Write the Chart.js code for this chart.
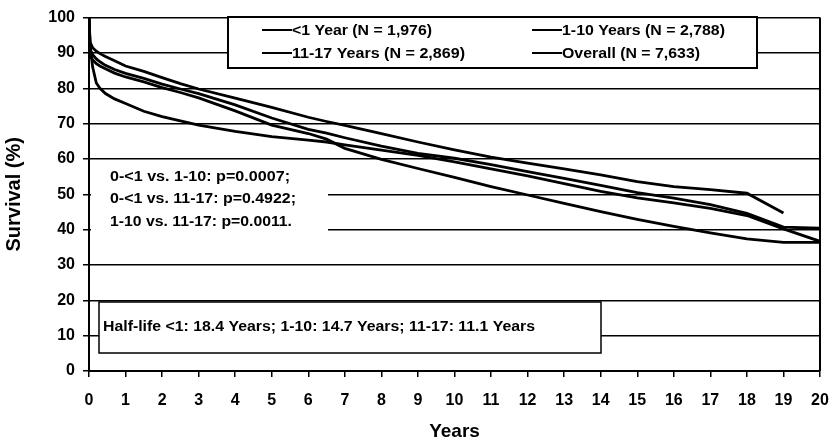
<!DOCTYPE html>
<html><head><meta charset="utf-8">
<script src="https://cdn.jsdelivr.net/npm/chart.js@4.4.1/dist/chart.umd.min.js"></script>
<style>html,body{margin:0;padding:0;background:#fff}</style>
</head><body>
<canvas id="c" width="833" height="447"></canvas>
<script>
// ---- data ----
const years = [0, 0.03, 0.1, 0.2, 0.3, 0.45, 0.7, 1, 1.5, 2, 2.5, 3, 4, 5, 6, 6.5, 7, 8, 9, 10, 11, 12, 13, 14, 15, 16, 17, 18, 19, 20];
const under1 = [100, 92, 86, 81.5, 80, 78.5, 77, 75.7, 73.5, 72, 70.8, 69.6, 67.8, 66.3, 65.3, 64.8, 64, 62.5, 61, 59.2, 57.2, 55.2, 53, 50.8, 49, 47.6, 46, 44, 40.2, 36.7];
const age1to10 = [100, 93, 91.5, 90.5, 89.8, 89, 87.8, 86.3, 84.8, 83, 81.3, 79.8, 77.2, 74.6, 71.8, 70.6, 69.5, 67.2, 64.8, 62.6, 60.5, 58.8, 57.2, 55.5, 53.6, 52.2, 51.3, 50.3, 44.7, null];
const age11to17 = [100, 89.5, 88, 87, 86.3, 85.5, 84.3, 83.2, 81.8, 80.2, 78.8, 77.3, 73.6, 69.6, 67.2, 65.6, 63, 59.9, 57.3, 54.8, 52.2, 49.8, 47.4, 45.1, 42.9, 40.9, 39.1, 37.4, 36.4, 36.4];
const overall = [100, 91, 89.5, 88.3, 87.5, 86.5, 85.3, 84.2, 82.8, 81.2, 79.8, 78.5, 75.3, 71.6, 68.4, 67.3, 66, 63.6, 61.6, 60.2, 58.4, 56.4, 54.5, 52.5, 50.5, 48.9, 47.1, 44.6, 40.7, 40.4];
const seriesLabels = ['<1 Year (N = 1,976)', '1-10 Years (N = 2,788)', '11-17 Years (N = 2,869)', 'Overall (N = 7,633)'];
const pValueLines = ['0-<1 vs. 1-10: p=0.0007;', '0-<1 vs. 11-17: p=0.4922;', '1-10 vs. 11-17: p=0.0011.'];
const halfLifeText = 'Half-life <1: 18.4 Years; 1-10: 14.7 Years; 11-17: 11.1 Years';
const yTicks = [0,10,20,30,40,50,60,70,80,90,100];
const xTicks = [0,1,2,3,4,5,6,7,8,9,10,11,12,13,14,15,16,17,18,19,20];

const FONT = '"Liberation Sans", Arial, Helvetica, sans-serif';
const toPts = arr => years.map((x,i)=>({x, y: arr[i]}));
const allSeries = [under1, age1to10, age11to17, overall];

// draw text stretched horizontally to a target width
function fitText(ctx, t, x, y, w){
  const m = ctx.measureText(t).width;
  ctx.save(); ctx.translate(x, y); ctx.scale(w / m, 1); ctx.fillText(t, 0, 0); ctx.restore();
}

const annot = {
  id: 'annot',
  beforeDatasetsDraw(chart){
    const {ctx, chartArea:a} = chart;
    ctx.save();
    // right border
    ctx.strokeStyle = '#000'; ctx.lineWidth = 2;
    ctx.beginPath(); ctx.moveTo(a.right, a.top); ctx.lineTo(a.right, a.bottom); ctx.stroke();
    // p-value area (white, no border)
    ctx.fillStyle = '#fff';
    ctx.fillRect(a.left + 2, 163, 328 - a.left - 2, 74);
    ctx.fillStyle = '#000';
    ctx.font = 'bold 14px ' + FONT;
    ctx.textBaseline = 'middle'; ctx.textAlign = 'left';
    const pw = [180, 186, 182];
    pValueLines.forEach((t,i)=> fitText(ctx, t, 110, 177 + i*22.5, pw[i]));
    // half-life box
    ctx.fillStyle = '#fff';
    ctx.fillRect(99, 302, 502, 51);
    ctx.strokeStyle = '#000'; ctx.lineWidth = 1.5;
    ctx.strokeRect(99, 302, 502, 51);
    ctx.fillStyle = '#000';
    ctx.font = 'bold 14px ' + FONT;
    fitText(ctx, halfLifeText, 103, 327, 432);
    // legend box
    ctx.fillStyle = '#fff';
    ctx.fillRect(228, 17, 529, 51);
    ctx.lineWidth = 2;
    ctx.strokeRect(228, 17, 529, 51);
    ctx.font = 'bold 15px ' + FONT;
    ctx.fillStyle = '#000';
    const pos = [[262, 30], [532, 30], [262, 53], [532, 53]];
    const tw = [140, 163, 173, 138];
    seriesLabels.forEach((t,i)=>{
      const [lx, ly] = pos[i];
      ctx.beginPath(); ctx.moveTo(lx, ly); ctx.lineTo(lx + 30, ly); ctx.stroke();
      fitText(ctx, t, lx + 30, ly + 1, tw[i]);
    });
    ctx.restore();
  }
};

new Chart(document.getElementById('c'), {
  type: 'line',
  data: {
    datasets: allSeries.map((s,i)=>({
      label: seriesLabels[i],
      data: toPts(s),
      borderColor: '#000',
      borderWidth: 2.8,
      pointRadius: 0,
      tension: 0,
      fill: false,
      spanGaps: false
    }))
  },
  options: {
    responsive: false,
    animation: false,
    devicePixelRatio: 1,
    layout: { padding: { top: 8, right: 13, left: 0, bottom: 0 } },
    plugins: { legend: { display: false }, tooltip: { enabled: false } },
    scales: {
      x: {
        type: 'linear', min: 0, max: 20,
        afterBuildTicks: s => { s.ticks = xTicks.map(v=>({value:v})); },
        afterFit: s => { s.height = 76; s.paddingLeft = 0; s.paddingRight = 0; },
        grid: { drawOnChartArea: false, drawTicks: true, tickLength: 6, color: '#000', lineWidth: 1.5 },
        border: { display: true, color: '#000', width: 2 },
        ticks: { color: '#000', font: { family: FONT, size: 16, weight: 'bold' }, padding: 14, maxRotation: 0, autoSkip: false },
        title: { display: true, text: 'Years', color: '#000', font: { family: FONT, size: 19, weight: 'bold' }, padding: { top: 10, bottom: 4 } }
      },
      y: {
        min: 0, max: 100,
        afterBuildTicks: s => { s.ticks = yTicks.map(v=>({value:v})); },
        afterFit: s => { s.width = 89; },
        grid: { drawOnChartArea: true, drawTicks: true, tickLength: 6, color: '#000', lineWidth: 1.5 },
        border: { display: true, color: '#000', width: 2 },
        ticks: { color: '#000', font: { family: FONT, size: 16, weight: 'bold' }, padding: 8 },
        title: { display: true, text: 'Survival (%)', color: '#000', font: { family: FONT, size: 20, weight: 'bold' }, padding: { top: 2, bottom: 4 } }
      }
    }
  },
  plugins: [annot]
});
</script>
</body></html>
